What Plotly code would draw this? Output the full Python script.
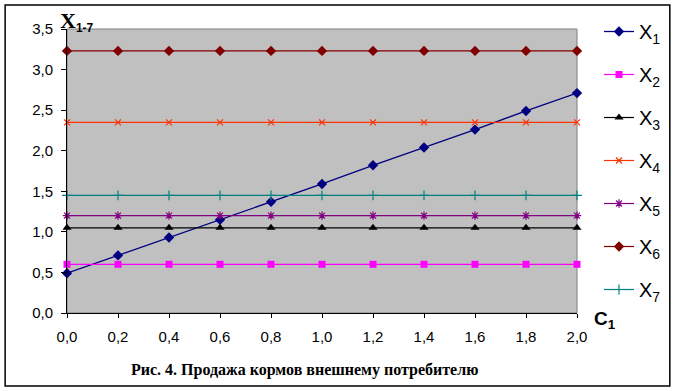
import plotly.graph_objects as go

c1 = [0.0, 0.2, 0.4, 0.6, 0.8, 1.0, 1.2, 1.4, 1.6, 1.8, 2.0]
x1 = [0.49, 0.71, 0.93, 1.15, 1.37, 1.59, 1.82, 2.04, 2.26, 2.49, 2.71]
x2 = [0.60] * 11
x3 = [1.05] * 11
x4 = [2.35] * 11
x5 = [1.20] * 11
x6 = [3.23] * 11
x7 = [1.45] * 11

names = ["X<sub>1</sub>", "X<sub>2</sub>", "X<sub>3</sub>", "X<sub>4</sub>",
         "X<sub>5</sub>", "X<sub>6</sub>", "X<sub>7</sub>"]
series = [x1, x2, x3, x4, x5, x6, x7]
colors = ["#000080", "#FF00FF", "#000000", "#FF3300", "#800080", "#800000", "#008080"]
symbols = ["diamond", "square", "triangle-up", "x-thin-open", "asterisk-open", "diamond", "cross-thin-open"]
sizes = [8, 7, 8, 6, 7, 8, 7]

fig = go.Figure()
for i, (nm, ys, col, sym, sz) in enumerate(zip(names, series, colors, symbols, sizes)):
    open_sym = sym.endswith("open")
    fig.add_trace(go.Scatter(
        x=c1, y=ys, name=nm, mode="lines+markers",
        line=dict(color=col, width=1.3 if i == 0 else 1.2),
        marker=dict(symbol=sym, size=sz, color=col,
                    line=dict(color=col, width=1.2 if open_sym else 0)),
        cliponaxis=False, legendgroup=str(i),
    ))

W, H = 677, 391
L, R, T, B = 67, 99, 29, 78
pw, ph = W - L - R, H - T - B

def px(xp):
    return (xp - L) / pw

def py(yp):
    return (H - B - yp) / ph

fig.update_layout(
    width=W, height=H,
    margin=dict(l=L, r=R, t=T, b=B, pad=0),
    paper_bgcolor="white", plot_bgcolor="#C0C0C0",
    separators=", ",
    font=dict(family="Arial, Liberation Sans, sans-serif", size=14, color="black"),
    showlegend=True,
    legend=dict(x=px(599), xanchor="left", y=py(12), yanchor="top",
                font=dict(size=20, family="Arial, Liberation Sans, sans-serif"),
                tracegroupgap=14, bgcolor="rgba(0,0,0,0)", borderwidth=0,
                itemwidth=30, maxheight=380),
    xaxis=dict(range=[0, 2.0], tickvals=c1, tickformat=".1f", showgrid=False,
               zeroline=False, showline=True, linecolor="black", linewidth=1,
               ticks="outside", ticklen=4, tickcolor="black", ticklabelstandoff=6,
               tickfont=dict(size=15)),
    yaxis=dict(range=[0, 3.5], dtick=0.5, tickformat=".1f", showgrid=False,
               zeroline=False, showline=True, linecolor="black", linewidth=1,
               ticks="outside", ticklen=5, tickcolor="black", ticklabelstandoff=5,
               tickfont=dict(size=15)),
    shapes=[
        dict(type="rect", xref="paper", yref="paper", x0=0, x1=1, y0=0, y1=1,
             line=dict(color="#808080", width=1), layer="below"),
        dict(type="rect", xref="paper", yref="paper",
             x0=px(5), x1=px(671), y0=py(386), y1=py(5),
             line=dict(color="black", width=1.5)),
    ],
    annotations=[
        dict(xref="paper", yref="paper", x=px(58), y=py(6), xanchor="left", yanchor="top",
             text="<b><span style='font-family:Times New Roman, Liberation Serif, serif;font-size:22px'>X</span>"
                  "<sub>1-7</sub></b>",
             font=dict(size=17), showarrow=False),
        dict(xref="paper", yref="paper", x=px(593), y=py(306), xanchor="left", yanchor="top",
             text="<b>C<sub>1</sub></b>",
             font=dict(size=19), showarrow=False),
        dict(xref="paper", yref="paper", x=px(305), y=py(370), xanchor="center", yanchor="middle",
             text="<b>Рис. 4. Продажа кормов внешнему потребителю</b>",
             font=dict(family="Times New Roman, Liberation Serif, serif", size=16),
             showarrow=False),
    ],
)

fig.write_html("out.html", config={"displayModeBar": False},
               post_script="document.body.style.margin='0px';document.body.style.padding='0px';")
